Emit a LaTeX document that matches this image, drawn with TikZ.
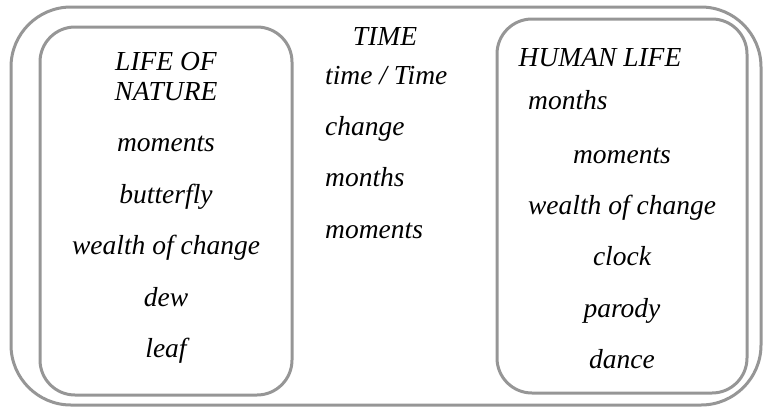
\documentclass[tikz,border=0pt]{standalone}
\usepackage{fontspec}
\setmainfont{Liberation Serif}
\usetikzlibrary{positioning}
\definecolor{framegray}{RGB}{150,150,150}
\tikzset{
  frame/.style={draw=framegray,line width=3pt},
  word/.style={font=\fontsize{27.5}{30}\selectfont\itshape,inner sep=0pt,
    text height=19pt,text depth=7pt},
}
\begin{document}
\begin{tikzpicture}[x=1pt,y=-1pt,node distance=25pt]
  \useasboundingbox (0,0) rectangle (766,408);
  % frames
  \draw[frame,rounded corners=60pt] (11,7) rectangle (761,405);
  \draw[frame,rounded corners=35pt] (40,27) rectangle (292,395);
  \draw[frame,rounded corners=35pt] (497,19) rectangle (747,393);
  % life of nature
  \node[word,anchor=base] (lifeof) at (166,70) {LIFE OF};
  \node[word,below=4pt of lifeof] (nature) {NATURE};
  \node[word,below=of nature] (nmoments) {moments};
  \node[word,below=of nmoments] (butterfly) {butterfly};
  \node[word,below=of butterfly] (nwealth) {wealth of change};
  \node[word,below=of nwealth] (dew) {dew};
  \node[word,below=of dew] (leaf) {leaf};
  % time
  \node[word,anchor=base] (time) at (385,45) {TIME};
  \node[word,anchor=base west] (timetime) at (325,84) {time / Time};
  \node[word,below right=25pt and 0pt of timetime.south west] (change) {change};
  \node[word,below right=25pt and 0pt of change.south west] (tmonths) {months};
  \node[word,below right=25pt and 0pt of tmonths.south west] (tmoments) {moments};
  % human life
  \node[word,anchor=base] (human) at (600,66) {HUMAN LIFE};
  \node[word,anchor=base west] (hmonths) at (528,109) {months};
  \node[word,anchor=base] (hmoments) at (622,163) {moments};
  \node[word,below=of hmoments] (hwealth) {wealth of change};
  \node[word,below=of hwealth] (clock) {clock};
  \node[word,below=of clock] (parody) {parody};
  \node[word,below=of parody] (dance) {dance};
\end{tikzpicture}
\end{document}
